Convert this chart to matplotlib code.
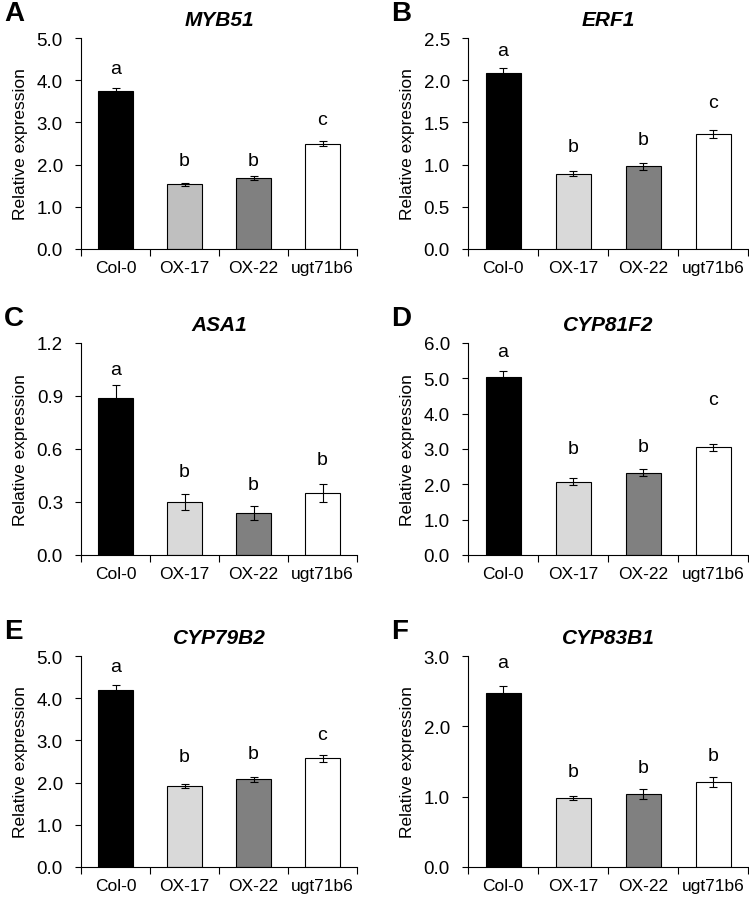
import matplotlib.pyplot as plt
import numpy as np

plt.rcParams['font.family'] = ['Liberation Sans', 'DejaVu Sans']

# data
genotypes = ['Col-0', 'OX-17', 'OX-22', 'ugt71b6']
genes = ['MYB51', 'ERF1', 'ASA1', 'CYP81F2', 'CYP79B2', 'CYP83B1']
panel_tags = ['A', 'B', 'C', 'D', 'E', 'F']

means = [
    [3.75, 1.53, 1.68, 2.50],
    [2.09, 0.89, 0.98, 1.36],
    [0.89, 0.30, 0.24, 0.35],
    [5.03, 2.08, 2.33, 3.05],
    [4.20, 1.92, 2.08, 2.58],
    [2.47, 0.98, 1.04, 1.21],
]
errs = [
    [0.07, 0.04, 0.04, 0.07],
    [0.05, 0.03, 0.04, 0.05],
    [0.07, 0.045, 0.04, 0.05],
    [0.18, 0.10, 0.09, 0.10],
    [0.12, 0.04, 0.06, 0.08],
    [0.10, 0.03, 0.07, 0.07],
]
letters = [
    ['a', 'b', 'b', 'c'],
    ['a', 'b', 'b', 'c'],
    ['a', 'b', 'b', 'b'],
    ['a', 'b', 'b', 'c'],
    ['a', 'b', 'b', 'c'],
    ['a', 'b', 'b', 'b'],
]
letter_y = [
    [4.27, 2.09, 2.09, 3.08],
    [2.35, 1.21, 1.30, 1.74],
    [1.05, 0.47, 0.40, 0.54],
    [5.75, 3.00, 3.08, 4.40],
    [4.76, 2.63, 2.68, 3.15],
    [2.91, 1.36, 1.42, 1.58],
]
ymax = [5.0, 2.5, 1.2, 6.0, 5.0, 3.0]
ystep = [1.0, 0.5, 0.3, 1.0, 1.0, 1.0]

colors = ['black', '#d9d9d9', '#808080', 'white']

W, H = 749, 904
fig = plt.figure(figsize=(W / 100, H / 100), dpi=100)

# axes boxes in pixels: left, top, right, bottom
boxes = [
    (81, 39, 357, 250), (468, 39, 748, 250),
    (81, 344, 357, 556), (468, 344, 748, 556),
    (81, 657, 357, 868), (468, 657, 748, 868),
]

for i in range(6):
    l, t, r, b = boxes[i]
    ax = fig.add_axes([l / W, 1 - b / H, (r - l) / W, (b - t) / H])
    x = np.arange(len(genotypes))
    cols = list(colors)
    if i == 0:
        cols[1] = '#bfbfbf'
    ax.bar(x, means[i], width=0.5, color=cols, edgecolor='black', linewidth=0.8, zorder=2)
    ax.errorbar(x, means[i], yerr=errs[i], fmt='none', ecolor='black',
                elinewidth=0.8, capsize=3, capthick=0.8, zorder=3)
    for j in range(len(genotypes)):
        ax.text(x[j], letter_y[i][j], letters[i][j], ha='center', va='center', fontsize=14)

    ax.set_xlim(-0.5, 3.5)
    ax.set_ylim(0, ymax[i])
    yt = np.arange(0, ymax[i] + 1e-9, ystep[i])
    ax.set_yticks(yt)
    ax.set_yticklabels(['%.1f' % v for v in yt], fontsize=13.5)
    ax.set_xticks(np.arange(-0.5, 4, 1.0))
    ax.set_xticklabels([])
    ax.set_xticks(x, minor=True)
    ax.set_xticklabels(genotypes, minor=True, fontsize=12.5)
    ax.tick_params(axis='x', which='minor', length=0, pad=8)
    ax.tick_params(axis='x', which='major', length=5, width=0.8, direction='out')
    ax.tick_params(axis='y', length=4, width=0.8, direction='out', pad=9)
    for s in ['top', 'right']:
        ax.spines[s].set_visible(False)
    for s in ['left', 'bottom']:
        ax.spines[s].set_linewidth(0.8)
    ax.set_ylabel('Relative expression', fontsize=12.5, labelpad=6)
    ax.set_title(genes[i], fontsize=15, fontweight='bold', fontstyle='italic', pad=9)
    fig.text((l - 77) / W, 1 - (t - 25) / H, panel_tags[i], fontsize=20, fontweight='bold',
             ha='left', va='center')

fig.savefig('out.png', dpi=100, facecolor='white')
